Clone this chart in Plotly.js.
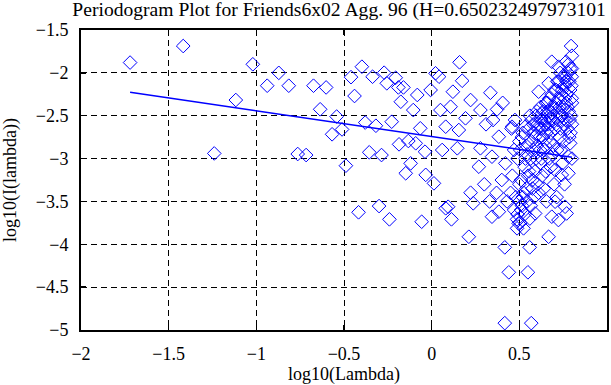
<!DOCTYPE html>
<html>
<head>
<meta charset="utf-8">
<script src="https://cdn.plot.ly/plotly-3.0.1.min.js"></script>
<style>html,body{margin:0;padding:0;background:#fff;}#chart{width:611px;height:385px;}</style>
</head>
<body>
<div id="chart"></div>
<script>
// Periodogram points: log10(Lambda)
var logLambda = [
-1.72,-1.417,-1.24,-1.117,-1.02,-0.938,-0.872,-0.815,-0.764,-0.716,
-0.674,-0.636,-0.602,-0.568,-0.542,-0.511,-0.489,-0.46,-0.44,-0.417,
-0.398,-0.379,-0.356,-0.337,-0.318,-0.3,-0.286,-0.271,-0.256,-0.241,
-0.228,-0.205,-0.19,-0.186,-0.176,-0.161,-0.148,-0.133,-0.12,-0.105,
-0.091,-0.082,-0.065,-0.057,-0.038,-0.034,-0.006,0.013,0.022,0.042,
0.05,0.06,0.08,0.08,0.094,0.108,0.113,0.121,0.146,0.155,
0.159,0.174,0.193,0.212,0.222,0.222,0.237,0.269,0.278,0.278,
0.3,0.31,0.33,0.335,0.344,0.344,0.35,0.37,0.373,0.383,
0.383,0.4,0.405,0.417,0.417,0.42,0.43,0.44,0.45,0.455,
0.458,0.47,0.475,0.487,0.487,0.49,0.496,0.5,0.505,0.51,
0.515,0.52,0.524,0.53,0.534,0.54,0.545,0.549,0.555,0.559,
0.56,0.565,0.568,0.57,0.575,0.58,0.585,0.59,0.59,0.595,
0.6,0.605,0.61,0.612,0.618,0.62,0.625,0.629,0.63,0.635,
0.64,0.645,0.648,0.652,0.655,0.66,0.663,0.667,0.667,0.667,
0.67,0.675,0.678,0.68,0.685,0.685,0.688,0.69,0.695,0.698,
0.7,0.704,0.704,0.706,0.71,0.713,0.716,0.72,0.723,0.723,
0.726,0.73,0.733,0.736,0.74,0.742,0.745,0.748,0.75,0.753,
0.756,0.758,0.761,0.763,0.766,0.767,0.77,0.772,0.775,0.778,
0.78,0.78,0.782,0.785,0.787,0.79,0.79,0.792,0.795,0.797,
0.799,0.799,0.8,0.8,
0.46,0.47,0.48,0.49,0.5,0.5,0.505,0.51,0.515,0.52,
0.525,0.53,0.535,0.54,0.545,0.55,0.555,0.56,0.565,0.57,
0.575,0.58,0.585,0.59,0.595,0.6,0.605,0.61,0.615,0.62,
0.625,0.63,0.635,0.64,0.645,0.65,0.655,0.66,0.665,0.67,
0.675,0.68,0.685,0.69,0.695,0.7,0.705,0.71,0.715,0.72,
0.725,0.73,0.735,0.74,0.745,0.75,0.755,0.76,0.765,0.77,
0.775,0.78,0.785,0.79,0.795,0.8,0.8,0.8
];
// Periodogram points: log10(I(lambda))
var logI = [
-1.88,-1.687,-2.94,-2.317,-1.90,-2.15,-2.0,-2.15,-2.947,-2.959,
-2.15,-2.425,-2.17,-2.717,-2.51,-2.66,-3.083,-2.05,-2.27,-3.627,
-1.928,-2.58,-2.927,-2.045,-2.617,-3.554,-2.959,-1.998,-2.122,-3.709,
-2.57,-2.057,-2.17,-2.834,-2.337,-2.17,-3.172,-2.795,-3.056,-2.434,
-2.822,-2.258,-2.647,-3.737,-2.92,-3.19,-2.2,-3.289,-2.005,-2.045,
-2.434,-2.9,-3.58,-2.628,-3.562,-2.395,-3.709,-2.22,-2.88,-2.667,
-1.877,-2.092,-2.53,-3.912,-2.317,-3.398,-3.522,-3.095,-2.434,-2.88,
-3.3,-2.6,-3.5,-2.232,-2.978,-3.678,-2.55,-3.4,-2.426,-2.745,
-3.62,-3.25,-2.35,-4.036,-4.92,-3.056,-3.5,-4.327,-3.4,-2.65,
-2.628,-3.6,-2.55,-3.709,-3.814,-3.0,-3.756,-3.3,-2.9,-3.6,
-2.75,-3.45,-3.814,-3.1,-2.628,-3.35,-2.95,-4.327,-3.15,-4.036,
-2.5,-3.55,-4.92,-2.8,-3.25,-2.6,-3.45,-3.64,-2.745,-3.0,
-2.45,-3.3,-2.22,-2.65,-2.9,-3.05,-2.55,-2.472,-3.2,-2.75,
-3.35,-2.6,-2.85,-2.35,-3.5,-2.45,-2.65,-2.51,-2.122,-3.912,
-2.3,-2.8,-2.55,-3.1,-1.87,-3.678,-2.4,-2.95,-2.5,-3.3,
-2.2,-3.503,-3.134,-2.35,-2.6,-3.45,-2.1,-2.45,-1.928,-3.717,
-2.3,-2.75,-2.0,-2.9,-2.5,-3.19,-2.2,-3.05,-2.4,-2.6,
-2.15,-3.3,-3.562,-2.05,-2.35,-1.87,-3.64,-2.25,-2.65,-2.0,
-2.978,-3.172,-2.45,-2.1,-2.55,-2.822,-1.95,-2.7,-1.687,-2.15,
-2.045,-2.297,-2.35,-1.8,
-3.2,-2.9,-3.45,-3.65,-3.5,-2.8,-3.75,-3.25,-3.55,-2.7,
-3.4,-3.65,-3.0,-2.85,-3.5,-3.2,-2.65,-3.7,-3.0,-2.55,
-3.35,-2.9,-2.7,-3.15,-2.5,-2.85,-2.6,-3.4,-2.75,-2.4,
-3.0,-2.65,-2.45,-2.9,-2.55,-3.15,-2.7,-2.35,-2.6,-3.0,
-2.45,-2.7,-2.25,-2.55,-2.85,-2.4,-2.65,-2.2,-2.9,-2.55,
-2.1,-2.4,-2.65,-2.25,-2.5,-2.05,-2.8,-2.3,-2.55,-2.1,
-2.4,-1.9,-2.75,-2.2,-2.5,-1.95,-2.6,-3.0
];
// Least-squares fit line endpoints (slope = 1-2H)
var fitX = [-1.72, 0.8];
var fitY = [-2.227, -2.984];

var tickX = [-2,-1.5,-1,-0.5,0,0.5,1];
var tickY = [-5,-4.5,-4,-3.5,-3,-2.5,-2,-1.5];

var font = 'Liberation Serif, Times New Roman, serif';

var traces = [
  {x: logLambda, y: logI, type:'scatter', mode:'markers',
   marker:{symbol:'diamond-open', size:10.5, color:'#0000ff', line:{width:1, color:'#0000ff'}},
   hoverinfo:'none', showlegend:false},
  {x: fitX, y: fitY, type:'scatter', mode:'lines',
   line:{color:'#0000ff', width:1.5}, hoverinfo:'none', showlegend:false}
];

var axisCommon = {
  showline:true, linecolor:'#000', linewidth:2, mirror:'ticks',
  ticks:'inside', ticklen:5, tickwidth:1.5, tickcolor:'#000',
  showgrid:true, gridcolor:'#000', gridwidth:1, griddash:'6px,4px',
  zeroline:false, tickfont:{family:font, size:18, color:'#000'}
};

var layout = {
  width:611, height:385,
  margin:{l:81, r:4, t:30, b:55},
  paper_bgcolor:'#fff', plot_bgcolor:'#fff',
  title:{text:'Periodogram Plot for Friends6x02 Agg. 96 (H=0.650232497973101',
         font:{family:font, size:19.6, color:'#000'}, x:0.555, xanchor:'center', y:0.977, yanchor:'middle'},
  xaxis:Object.assign({}, axisCommon, {range:[-2,1], tickvals:tickX, ticklabelstandoff:6,
         title:{text:'log10(Lambda)', font:{family:font, size:18, color:'#000'}, standoff:6}}),
  yaxis:Object.assign({}, axisCommon, {range:[-5,-1.5], tickvals:tickY, ticklabelstandoff:7,
         title:{text:'log10(I(lambda))', font:{family:font, size:18, color:'#000'}, standoff:14}})
};

Plotly.newPlot('chart', traces, layout, {staticPlot:true, displayModeBar:false});
</script>
</body>
</html>
